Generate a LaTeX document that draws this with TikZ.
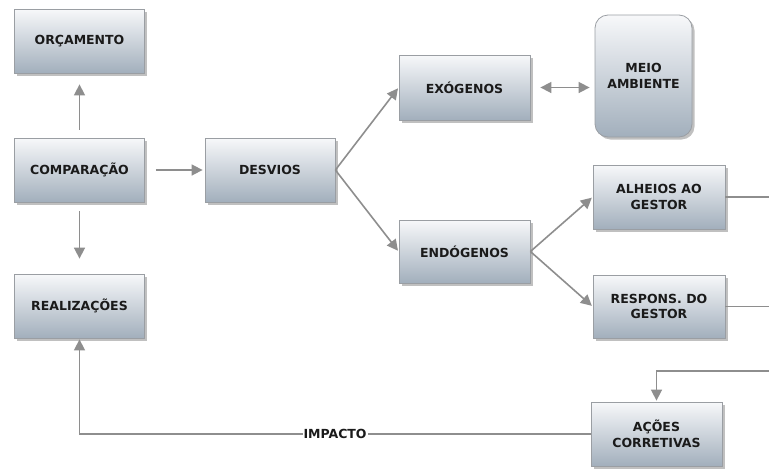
\documentclass[tikz,border=0pt]{standalone}
\usepackage{fontspec}
\setmainfont{DejaVu Sans}
\usetikzlibrary{arrows.meta,shadows,positioning}
\definecolor{boxtop}{HTML}{F7F8FA}
\definecolor{boxbot}{HTML}{A2AFBC}
\definecolor{boxline}{HTML}{9A9EA3}
\definecolor{linkgray}{HTML}{8E8E8E}
\definecolor{textdark}{HTML}{1A1A1A}
\begin{document}
\begin{tikzpicture}[x=1pt,y=-1pt,
  every node/.style={font=\fontsize{12.5}{15.5}\selectfont\bfseries, text=textdark, align=center},
  block/.style={draw=boxline, line width=0.8pt, top color=boxtop, bottom color=boxbot,
    minimum width=130pt, minimum height=64pt, inner sep=2pt,
    drop shadow={shadow xshift=2.5pt, shadow yshift=-2.5pt, opacity=0.45, fill=black!55}},
  link/.style={draw=linkgray, line width=1.6pt, -{Triangle[length=11pt,width=11pt]}},
  plain/.style={draw=linkgray, line width=1.6pt},
  twoway/.style={draw=linkgray, line width=1.6pt, {Triangle[length=11pt,width=11pt]}-{Triangle[length=11pt,width=11pt]}}
]
\useasboundingbox (0,0) rectangle (769,472);

% left column
\node[block] (orc)  at (79.5,41)  {ORÇAMENTO};
\node[block] (comp) at (79.5,170) {COMPARAÇÃO};
\node[block] (real) at (79.5,306) {REALIZAÇÕES};

% deviations
\node[block] (desv) at (270,170) {DESVIOS};
\node[block, minimum width=131pt, minimum height=65pt] (exo)  at (464.5,87.5) {EXÓGENOS};
\node[block, minimum width=131pt, minimum height=63pt] (endo) at (464.5,251.5) {ENDÓGENOS};
\node[block, minimum width=97pt, minimum height=122pt, rounded corners=13pt] (meio) at (643.5,76) {MEIO\\AMBIENTE};

% internal causes and response
\node[block, minimum width=132pt] (alh)  at (659,197)   {ALHEIOS AO\\GESTOR};
\node[block, minimum width=132pt, minimum height=63pt] (resp) at (659,306.5) {RESPONS. DO\\GESTOR};
\node[block, minimum width=131pt] (acoes) at (656.5,434) {AÇÕES\\CORRETIVAS};

% free ends at the right margin
\coordinate (alhR)  at (769,197);
\coordinate (respR) at (769,306.5);
\coordinate (backR) at (769,371);
\coordinate (backC) at (acoes.north |- backR);
\coordinate (impL)  at (real.south |- acoes.west);

% connectors
\draw[link, shorten <=8pt, shorten >=11pt] (comp.north) -- (orc.south);
\draw[link, shorten <=9pt, shorten >=15pt] (comp.south) -- (real.north);
\draw[link, shorten <=11pt, shorten >=2pt] (comp.east) -- (desv.west);
\draw[link, shorten >=1pt] (desv.east) -- (exo.west);
\draw[link, shorten >=1pt] (desv.east) -- (endo.west);
\draw[twoway, shorten <=10pt, shorten >=5pt] (exo.east) -- (meio.west |- exo.east);
\draw[link, shorten >=1pt] (endo.east) -- (alh.west);
\draw[link, shorten >=1pt] (endo.east) -- (resp.west);
\draw[plain] (alh.east) -- (alhR);
\draw[plain] (resp.east) -- (respR);
\draw[link, shorten >=1pt] (backR) -- (backC) -- (acoes.north);
\draw[link, shorten >=1pt] (acoes.west) -- node[pos=0.5, fill=white, inner sep=1pt] (imp) {IMPACTO} (impL) -- (real.south);
\end{tikzpicture}
\end{document}
